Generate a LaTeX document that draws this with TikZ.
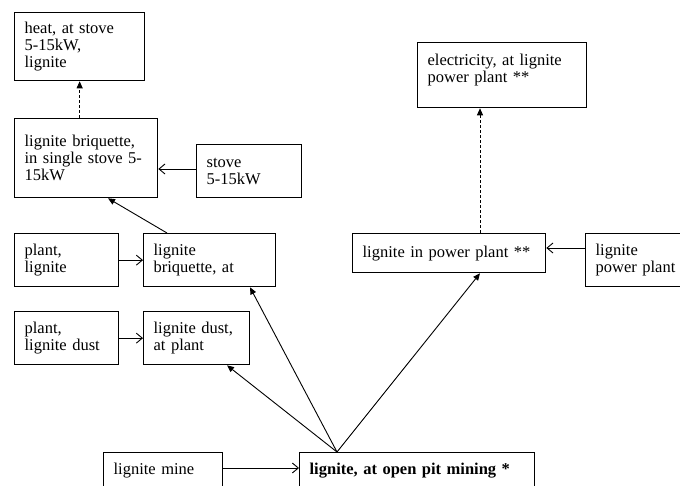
\documentclass[tikz,border=0pt]{standalone}
\usepackage{fontspec}
\setmainfont{Liberation Serif}
\usetikzlibrary{arrows.meta,calc}

\tikzset{
  proc/.style={draw=black, line width=1.3pt, rectangle, anchor=north west,
    inner xsep=10pt, inner ysep=0pt, align=left,
    font=\fontsize{16.5}{17}\selectfont},
  link/.style={draw=black, line width=0.9pt},
  feed/.style={link, -{Straight Barb[length=6pt,width=10pt,line width=0.9pt]}},
  flow/.style={link, -{Triangle[length=7pt,width=6pt]}},
  dashflow/.style={flow, dash pattern=on 3pt off 2pt}
}

% box helper: left, top, width, height (y grows downward)
\newcommand{\procbox}[6]{%
  \node[proc, minimum width=#4pt, minimum height=#5pt,
        text width=\dimexpr#4pt-20pt\relax] (#1) at (#2,#3) {#6};}

\begin{document}
\begin{tikzpicture}[x=1pt, y=-1pt]
  \useasboundingbox (0,0) rectangle (680,486);
  \clip (0,0) rectangle (680,486);

  % process boxes
  \procbox{heat}{14}{12}{130}{68}{heat, at stove\\5-15kW,\\lignite}
  \procbox{bstove}{14}{118}{143}{79}{lignite briquette,\\in single stove 5-\\15kW}
  \procbox{stove}{196}{144}{105}{53}{stove\\5-15kW}
  \procbox{plantlig}{14}{233}{104}{53}{plant,\\lignite}
  \procbox{briq}{143}{233}{132}{53}{lignite\\briquette, at}
  \procbox{plantdust}{14}{311}{104}{53}{plant,\\lignite dust}
  \procbox{dust}{143}{311}{106}{53}{lignite dust,\\at plant}
  \procbox{elec}{417}{42}{169}{65}{electricity, at lignite\\power plant **\\[-4pt]\mbox{}}
  \procbox{lpp}{352}{233}{193}{39}{lignite in power plant **}
  \procbox{lppplant}{585}{233}{110}{53}{lignite\\power plant}
  \procbox{mine}{103}{452}{119}{40}{lignite mine\\[-9pt]\mbox{}}
  \procbox{pit}{299}{452}{235}{40}{\textbf{lignite, at open pit mining *}\\[-9pt]\mbox{}}

  % reference points on box edges
  \coordinate (apex) at ($(pit.north west)+(38,0)$);
  \coordinate (lppTop) at ($(lpp.north west)+(128,0)$);
  \coordinate (lppBot) at ($(lpp.south west)+(128,0)$);
  \coordinate (briqTop) at ($(briq.north west)+(24,0)$);
  \coordinate (briqBot) at ($(briq.south west)+(107,0)$);
  \coordinate (bstoveBot) at ($(bstove.south west)+(94,0)$);
  \coordinate (dustBot) at ($(dust.south west)+(84,0)$);
  \coordinate (stoveIn) at ($(stove.north west)+(0,25)$);
  \coordinate (lppIn) at ($(lppplant.north west)+(0,15)$);
  \coordinate (mineOut) at ($(mine.north east)+(0,16)$);

  % dashed outputs
  \draw[dashflow] (bstove.north -| heat.south) -- (heat.south);
  \draw[dashflow] (lppTop) -- (lppTop |- elec.south);

  % inputs from the left/right
  \draw[feed] (stoveIn) -- (stoveIn -| bstove.east);
  \draw[feed] (plantlig.east) -- (plantlig.east -| briq.west);
  \draw[feed] (plantdust.east) -- (plantdust.east -| dust.west);
  \draw[feed] (lppIn) -- (lppIn -| lpp.east);
  \draw[feed] (mineOut) -- (mineOut -| pit.west);

  % material flows
  \draw[flow] (briqTop) -- (bstoveBot);
  \draw[flow] (apex) -- (dustBot);
  \draw[flow] (apex) -- (briqBot);
  \draw[flow] (apex) -- (lppBot);
\end{tikzpicture}
\end{document}
